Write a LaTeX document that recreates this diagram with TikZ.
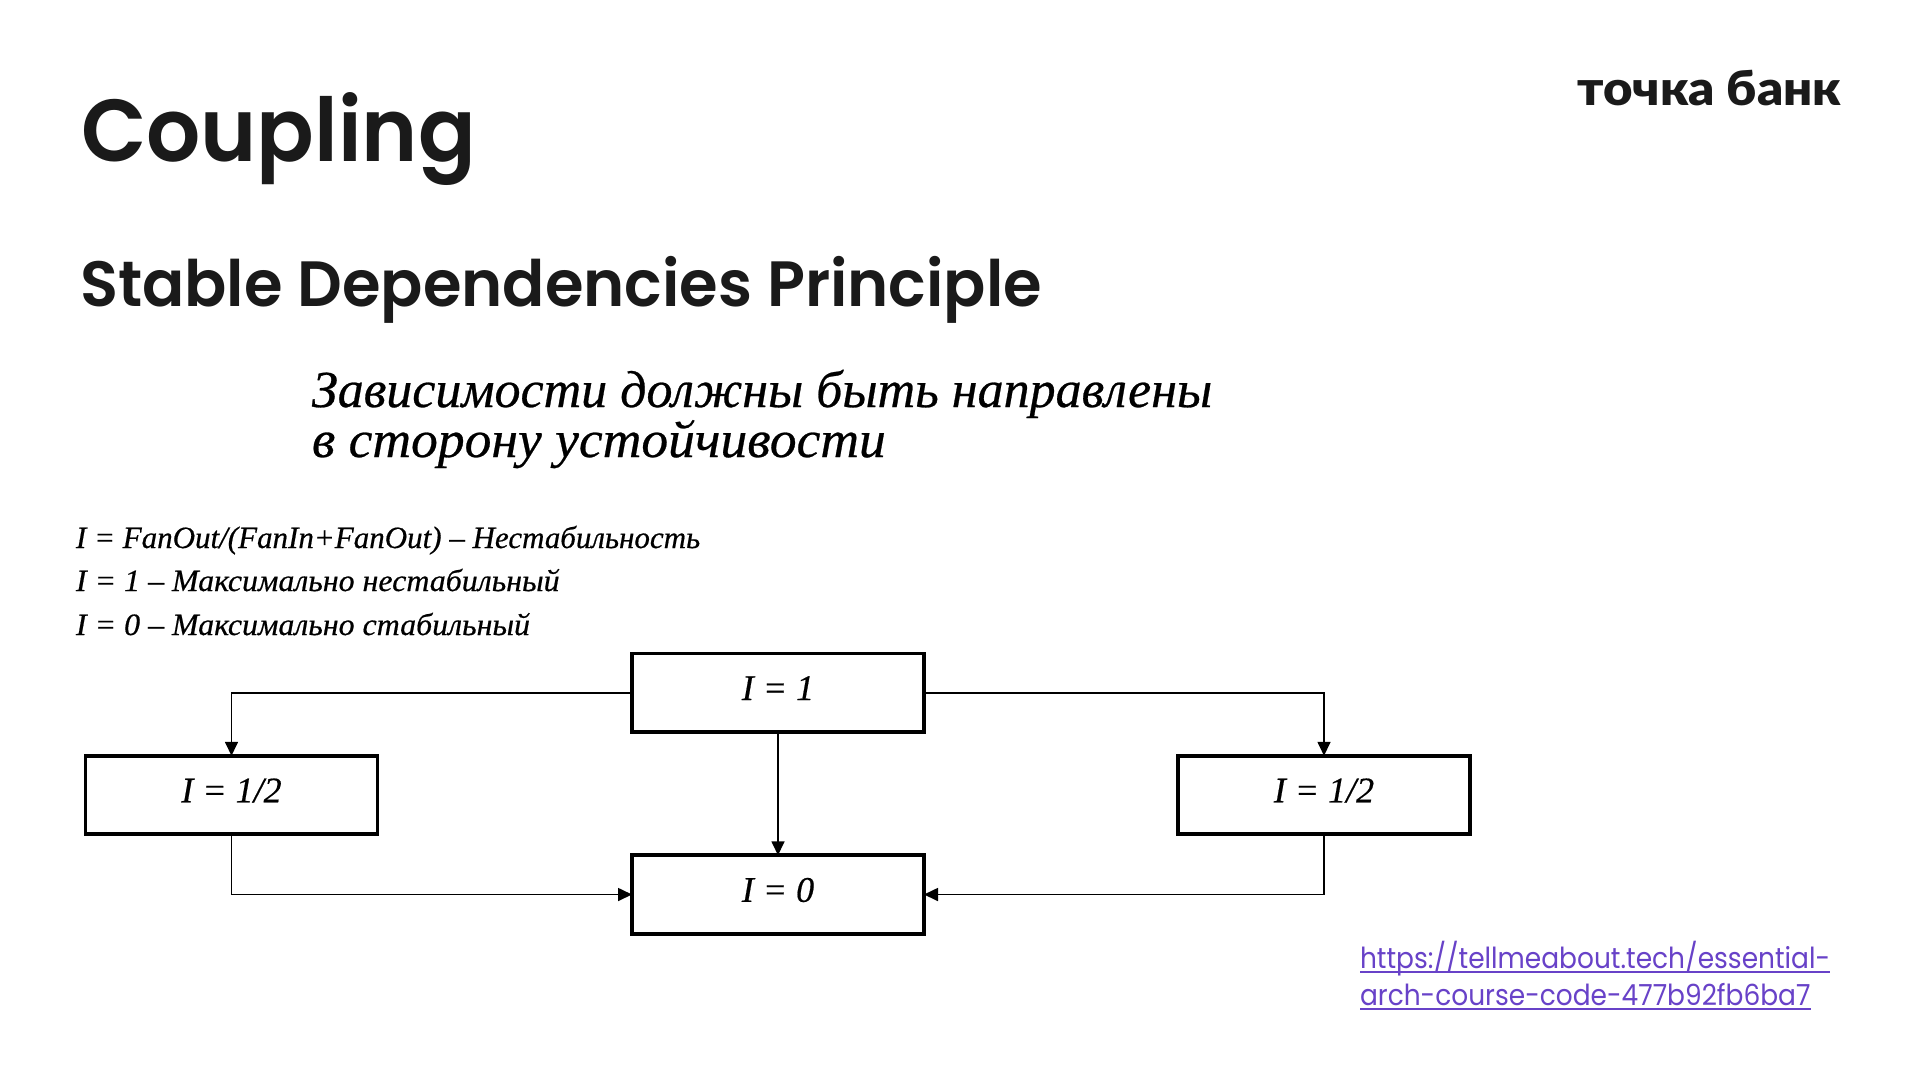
\documentclass[tikz,border=0pt]{standalone}
\usepackage{fontspec}
\usetikzlibrary{arrows.meta}
\setmainfont{Liberation Serif}
\newfontfamily\headfont{Poppins}[UprightFont=* SemiBold,FakeStretch=0.967]
\newfontfamily\subfont{Poppins}[UprightFont=* SemiBold,FakeStretch=0.975]
\newfontfamily\linkfont{Poppins}[FakeStretch=0.912]
\newfontfamily\logofont{Lato}[UprightFont=* Black,FakeStretch=1.06]
\newfontfamily\handfont{Liberation Serif}[ItalicFeatures={FakeBold=0.5}]
\newfontfamily\handwide{Liberation Serif}[ItalicFeatures={FakeBold=0.5},FakeStretch=1.03]
\definecolor{ink}{HTML}{1A1A1A}
\definecolor{linkcol}{HTML}{6842C8}
\tikzset{
  txt/.style={anchor=base west,inner sep=0pt,outer sep=0pt},
  title/.style={txt,text=ink,font=\headfont\fontsize{88}{88}\selectfont},
  subtitle/.style={txt,text=ink,font=\subfont\fontsize{64}{64}\selectfont},
  quote/.style={txt,text=black,font=\handfont\itshape\fontsize{52}{52}\selectfont},
  quotewide/.style={txt,text=black,font=\handwide\itshape\fontsize{52}{52}\selectfont},
  formula/.style={txt,text=black,font=\handfont\itshape\fontsize{31}{31}\selectfont},
  formulawide/.style={txt,text=black,font=\handwide\itshape\fontsize{31}{31}\selectfont},
  linktext/.style={txt,text=linkcol,font=\linkfont\fontsize{29}{29}\selectfont},
  logo/.style={txt,text=ink,font=\logofont\fontsize{48}{48}\selectfont},
  boxnode/.style={draw=black,fill=white,line width=3.8pt,minimum width=292pt,minimum height=78.5pt,inner sep=0pt,outer sep=0pt,text height=22.6pt,text depth=8pt,font=\handfont\itshape\fontsize{36}{36}\selectfont},
  conn/.style={draw=black,line width=1.7pt,-{Triangle[length=14pt,width=13pt]}},
  ul/.style={draw=linkcol,line width=1.6pt}
}
\begin{document}
\begin{tikzpicture}[x=1pt,y=-1pt]
\useasboundingbox[fill=white] (0,0) rectangle (1920,1080);
\node[title] (t) at (81,161.5) {Coupling};
\node[subtitle] (s) at (80,306) {Stable Dependencies Principle};
\node[logo] (lg) at (1577,105) {точка банк};
\node[quote] (q1) at (312,407) {Зависимости должны быть направлены};
\node[quotewide] (q2) at (312,457) {в сторону устойчивости};
\node[formula] (f1) at (76,548) {I = FanOut/(FanIn+FanOut) – Нестабильность};
\node[formulawide] (f2) at (76,591) {I = 1 – Максимально нестабильный};
\node[formulawide] (f3) at (76,635) {I = 0 – Максимально стабильный};
\node[boxnode] (top) at (778,692.7) {I = 1};
\node[boxnode] (bot) at (778,894.5) {I = 0};
\node[boxnode] (lft) at (231.5,795) {I = 1/2};
\node[boxnode] (rgt) at (1324,795) {I = 1/2};
\draw[conn] (top.west) -| (lft.north);
\draw[conn] (top.east) -| (rgt.north);
\draw[conn] (top.south) -- (bot.north);
\draw[conn] (lft.south) |- (bot.west);
\draw[conn] (rgt.south) |- (bot.east);
\node[linktext] (l1) at (1360,968) {https://tellmeabout.tech/essential-};
\node[linktext] (l2) at (1360,1005) {arch-course-code-477b92fb6ba7};
\draw[ul] ([yshift=-4pt]l1.base west) -- ([yshift=-4pt]l1.base east);
\draw[ul] ([yshift=-4pt]l2.base west) -- ([yshift=-4pt]l2.base east);
\end{tikzpicture}
\end{document}
